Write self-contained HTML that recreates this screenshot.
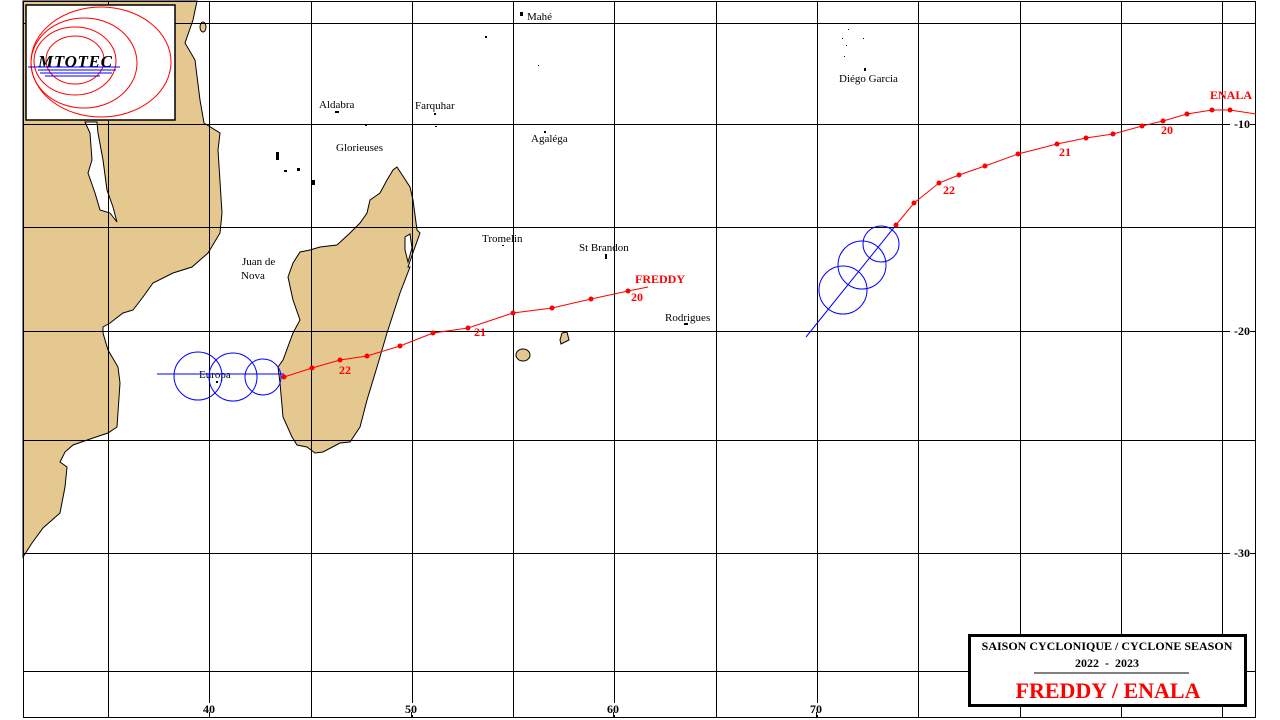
<!DOCTYPE html>
<html><head><meta charset="utf-8"><style>
html,body{margin:0;padding:0;background:#fff;width:1280px;height:720px;overflow:hidden}
svg{display:block}
.pl{font-family:"Liberation Serif",serif;font-size:11px;fill:#000}
.rl{font-family:"Liberation Serif",serif;font-size:12px;font-weight:bold;fill:#f00}
.ax{font-family:"Liberation Serif",serif;font-size:12px;font-weight:bold;fill:#000}
</style></head><body>
<svg width="1280" height="720" viewBox="0 0 1280 720">
<rect width="1280" height="720" fill="#fff"/>
<g fill="#e5c890" stroke="#000" stroke-width="1">
<polygon points="23,1 197,1 193,20 185,43 195,60 200,100 204,123 220,133 218,150 222,213 220,233 208,253 192,267 173,273 153,283 143,297 133,310 123,313 110,323 103,327 103,333 108,350 118,367 120,383 117,427 108,433 93,438 73,445 65,452 60,462 67,467 65,487 60,513 43,528 32,543 23,557"/>
<polygon points="397,167 410,187 413,200 417,230 420,233 415,247 408,267 410,267 400,293 387,333 377,367 367,400 360,427 350,442 340,443 323,452 315,453 307,447 297,445 292,437 283,417 280,383 278,367 283,360 293,333 300,320 293,300 288,277 293,263 300,252 310,250 320,247 337,245 350,233 360,223 367,213 370,200 380,193 387,180 393,170"/>
<ellipse cx="523" cy="355" rx="7" ry="6"/>
<polygon points="562,333 567,332 569,340 561,344 560,340"/>
<ellipse cx="203" cy="27" rx="3" ry="5"/>
</g>
<polygon points="85,122 90,133 92,160 88,173 95,193 100,210 110,213 117,222 113,207 107,190 103,160 98,133 97,122" fill="#fff" stroke="#000"/>
<polygon points="405,237 410,234 412,248 408,262 405,250" fill="#fff" stroke="#000"/>
<g fill="#000">
<rect x="276" y="152" width="3" height="8"/><rect x="284" y="170" width="3" height="2"/><rect x="297" y="168" width="3" height="3"/><rect x="312" y="180" width="3" height="5"/>
<rect x="335" y="111" width="4" height="2"/><rect x="365" y="124" width="2" height="2"/><rect x="434" y="113" width="2" height="2"/><rect x="435" y="126" width="2" height="1"/>
<rect x="520" y="12" width="3" height="4"/><rect x="485" y="36" width="2" height="2"/><rect x="538" y="65" width="1" height="1"/><rect x="544" y="131" width="2" height="2"/>
<rect x="605" y="254" width="2" height="5"/><rect x="684" y="323" width="4" height="2"/><rect x="864" y="68" width="2" height="3"/>
<rect x="848" y="29" width="1" height="1"/><rect x="842" y="38" width="1" height="1"/><rect x="846" y="45" width="1" height="1"/><rect x="844" y="56" width="1" height="1"/><rect x="863" y="38" width="1" height="1"/><rect x="216" y="381" width="2" height="2"/><rect x="502" y="245" width="2" height="1"/>
</g>
<g stroke="#000" stroke-width="1" fill="none" shape-rendering="crispEdges">
<path d="M108.5,1V718M209.5,1V718M311.5,1V718M412.5,1V718M513.5,1V718M614.5,1V718M716.5,1V718M817.5,1V718M918.5,1V718M1020.5,1V718M1121.5,1V718M1222.5,1V718"/>
<path d="M23,23.5H1256M23,124.5H1256M23,227.5H1256M23,331.5H1256M23,440.5H1256M23,553.5H1256M23,671.5H1256"/>
<rect x="23.5" y="1.5" width="1232" height="716"/>
</g>
<g fill="#fff">
<rect x="202" y="703" width="15" height="12"/><rect x="404" y="703" width="15" height="12"/><rect x="606" y="703" width="15" height="12"/><rect x="809" y="703" width="15" height="12"/>
<rect x="1230" y="118" width="22" height="12"/><rect x="1230" y="325" width="22" height="12"/><rect x="1230" y="547" width="22" height="12"/>
</g>
<g stroke="#000" shape-rendering="crispEdges">
<path d="M209.5,712V718M411.5,712V718M613.5,712V718M816.5,712V718M1250,124.5H1256M1250,331.5H1256M1250,553.5H1256"/>
</g>
<g class="ax" text-anchor="middle">
<text x="209" y="713">40</text><text x="411" y="713">50</text><text x="613" y="713">60</text><text x="816" y="713">70</text>
</g>
<g class="ax" text-anchor="end">
<text x="1250" y="128">-10</text><text x="1250" y="335">-20</text><text x="1250" y="557">-30</text>
</g>
<rect x="26" y="5" width="149" height="115" fill="#fff" stroke="#000" stroke-width="1.5"/>
<g fill="none" stroke="#f00" stroke-width="1">
<ellipse cx="101" cy="62" rx="70" ry="55"/><ellipse cx="84" cy="63" rx="53" ry="45"/><ellipse cx="75" cy="61" rx="41" ry="34"/><ellipse cx="75" cy="60" rx="29" ry="24"/>
</g>
<text x="38" y="67" font-family="Liberation Serif,serif" font-size="17" font-weight="bold" font-style="italic" fill="#000" textLength="74">MTOTEC</text>
<g stroke="#00f" stroke-width="1"><path d="M28,67H120M38,70H116M40,73H112M45,76H100"/></g>
<g class="pl">
<text x="527" y="20">Mahé</text><text x="319" y="108">Aldabra</text><text x="415" y="109">Farquhar</text>
<text x="336" y="151">Glorieuses</text><text x="531" y="142">Agaléga</text><text x="482" y="242">Tromelin</text>
<text x="579" y="251">St Brandon</text><text x="242" y="265">Juan de</text><text x="241" y="279">Nova</text>
<text x="199" y="378">Europa</text><text x="665" y="321">Rodrigues</text><text x="839" y="82">Diégo Garcia</text>
</g>
<g fill="none" stroke="#00f" stroke-width="1">
<path d="M157,374H284"/>
<circle cx="263" cy="377" r="18"/><circle cx="233" cy="377" r="24"/><circle cx="198" cy="376" r="24"/>
<path d="M896,225L806,337"/>
<circle cx="881" cy="244" r="18"/><circle cx="862" cy="265" r="24"/><circle cx="843" cy="290" r="24"/>
</g>
<polyline fill="none" stroke="#f00" stroke-width="1" points="648,287 628,291 591,299 552,308 513,313 468,328 433,333 400,346 367,356 340,360 312,368 284,377"/>
<g fill="#f00">
<circle cx="628" cy="291" r="2.5"/><circle cx="591" cy="299" r="2.5"/><circle cx="552" cy="308" r="2.5"/><circle cx="513" cy="313" r="2.5"/><circle cx="468" cy="328" r="2.5"/><circle cx="433" cy="333" r="2.5"/><circle cx="400" cy="346" r="2.5"/><circle cx="367" cy="356" r="2.5"/><circle cx="340" cy="360" r="2.5"/><circle cx="312" cy="368" r="2.5"/><circle cx="284" cy="377" r="2.5"/>
</g>
<polyline fill="none" stroke="#f00" stroke-width="1" points="1256,114 1230,110 1212,110 1187,114 1163,121 1142,126 1113,134 1086,138 1057,144 1018,154 985,166 959,175 939,183 914,203 896,225"/>
<g fill="#f00">
<circle cx="1230" cy="110" r="2.5"/><circle cx="1212" cy="110" r="2.5"/><circle cx="1187" cy="114" r="2.5"/><circle cx="1163" cy="121" r="2.5"/><circle cx="1142" cy="126" r="2.5"/><circle cx="1113" cy="134" r="2.5"/><circle cx="1086" cy="138" r="2.5"/><circle cx="1057" cy="144" r="2.5"/><circle cx="1018" cy="154" r="2.5"/><circle cx="985" cy="166" r="2.5"/><circle cx="959" cy="175" r="2.5"/><circle cx="939" cy="183" r="2.5"/><circle cx="914" cy="203" r="2.5"/><circle cx="896" cy="225" r="2.5"/>
</g>
<g class="rl">
<text x="339" y="374">22</text><text x="474" y="336">21</text><text x="631" y="301">20</text><text x="635" y="283">FREDDY</text>
<text x="1210" y="99">ENALA</text><text x="1161" y="134">20</text><text x="1059" y="156">21</text><text x="943" y="194">22</text>
</g>
<rect x="969.5" y="635.5" width="276" height="70" fill="#fff" stroke="#000" stroke-width="3"/>
<text x="1107" y="650" text-anchor="middle" font-family="Liberation Serif,serif" font-size="12" font-weight="bold">SAISON CYCLONIQUE / CYCLONE SEASON</text>
<text x="1107" y="667" text-anchor="middle" font-family="Liberation Serif,serif" font-size="12" font-weight="bold" xml:space="preserve">2022  -  2023</text>
<path d="M1034,673H1189" stroke="#000" stroke-width="1"/>
<text x="1108" y="698" text-anchor="middle" font-family="Liberation Serif,serif" font-size="22" font-weight="bold" fill="#f00">FREDDY / ENALA</text>
</svg>
</body></html>
